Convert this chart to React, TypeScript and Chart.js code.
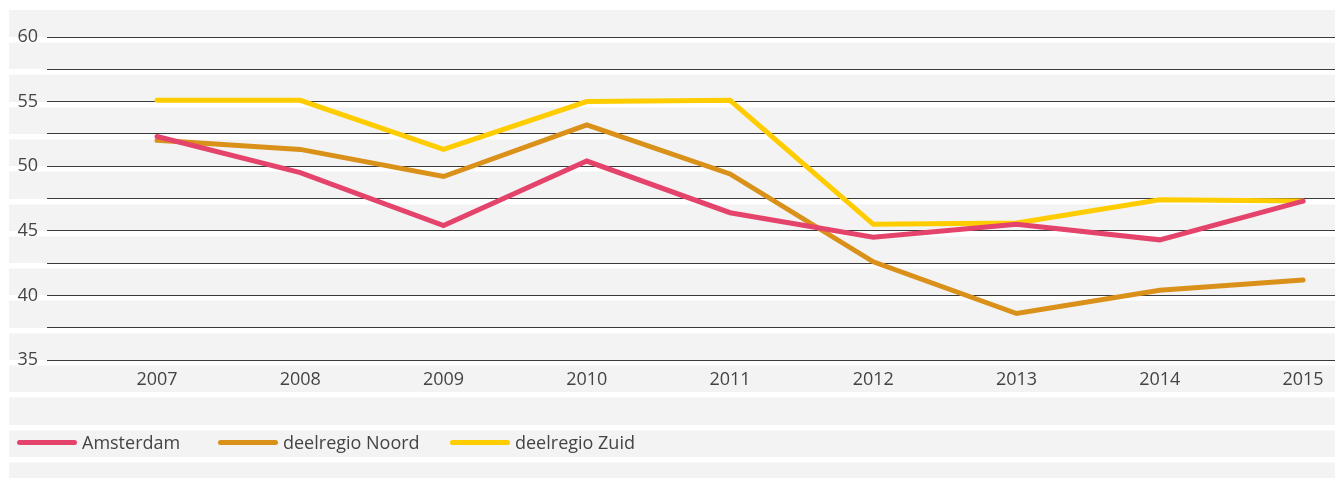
import React, { useEffect, useRef } from "react";
import { Chart, registerables } from "chart.js";

Chart.register(...registerables);

// ---- data ----
const years = [2007, 2008, 2009, 2010, 2011, 2012, 2013, 2014, 2015];
const amsterdam = [52.3, 49.5, 45.4, 50.4, 46.4, 44.5, 45.5, 44.3, 47.3];
const noord = [52.0, 51.3, 49.2, 53.2, 49.4, 42.6, 38.6, 40.4, 41.2];
const zuid = [55.1, 55.1, 51.3, 55.0, 55.1, 45.5, 45.6, 47.4, 47.3];
const seriesNames = ["Amsterdam", "deelregio Noord", "deelregio Zuid"];
const yMin = 35;
const yMax = 60;
const yStep = 2.5;
const yLabelStep = 5;

// ---- style ----
const COLORS = ["#e4446b", "#d9911a", "#ffcc00"];
const FONT = "'Open Sans', 'DejaVu Sans', sans-serif";
const TEXT = "#444444";
const BAND = "#f3f3f3";

const stripesPlugin = {
  id: "stripes",
  beforeDraw(chart: any) {
    const { ctx, width, height } = chart;
    const y = chart.scales.y;
    ctx.save();
    ctx.fillStyle = "#ffffff";
    ctx.fillRect(0, 0, width, height);
    ctx.fillStyle = BAND;
    ctx.fillRect(9, 10, width - 9, height - 10);
    ctx.fillStyle = "#ffffff";
    for (let v = yMax; ; v -= yStep) {
      const py = Math.round(y.getPixelForValue(v));
      if (py > height) break;
      ctx.fillRect(9, py, width - 9, 5.5);
    }
    ctx.restore();
  },
};

const legendPlugin = {
  id: "customLegend",
  afterDraw(chart: any) {
    const { ctx } = chart;
    const starts = [17, 218, 450];
    const cy = 442.5;
    ctx.save();
    chart.data.datasets.forEach((ds: any, i: number) => {
      const x = starts[i];
      ctx.strokeStyle = ds.borderColor;
      ctx.lineWidth = 5;
      ctx.lineCap = "round";
      ctx.beginPath();
      ctx.moveTo(x + 2.5, cy);
      ctx.lineTo(x + 57.5, cy);
      ctx.stroke();
      ctx.fillStyle = TEXT;
      ctx.font = `400 18px ${FONT}`;
      ctx.textBaseline = "alphabetic";
      ctx.textAlign = "left";
      ctx.fillText(ds.label, x + 65, 449);
    });
    ctx.restore();
  },
};

export default function App() {
  const ref = useRef<HTMLCanvasElement | null>(null);

  useEffect(() => {
    if (!ref.current) return;
    const series = [amsterdam, noord, zuid];
    const chart = new Chart(ref.current, {
      type: "line",
      data: {
        datasets: series.map((vals, i) => ({
          label: seriesNames[i],
          data: years.map((yr, j) => ({ x: yr, y: vals[j] })),
          borderColor: COLORS[i],
          backgroundColor: COLORS[i],
          borderWidth: 5,
          borderCapStyle: "round",
          borderJoinStyle: "miter",
          pointRadius: 0,
          pointHoverRadius: 0,
          tension: 0,
          fill: false,
        })),
      },
      options: {
        animation: false,
        responsive: false,
        maintainAspectRatio: false,
        layout: { padding: { top: 37, left: 0, right: 0, bottom: 0 } },
        plugins: {
          legend: { display: false },
          tooltip: { enabled: false },
        },
        scales: {
          x: {
            type: "linear",
            min: 2006.232,
            max: 2015.223,
            afterBuildTicks: (axis: any) => {
              axis.ticks = years.map((v) => ({ value: v }));
            },
            afterFit: (axis: any) => {
              axis.height = 118;
            },
            grid: { display: false, drawTicks: false },
            border: { display: false },
            ticks: {
              padding: 9,
              color: TEXT,
              font: { family: FONT, size: 18, weight: "400" },
              maxRotation: 0,
              autoSkip: false,
              callback: (v: any) => String(v),
            },
          },
          y: {
            min: yMin,
            max: yMax,
            afterFit: (axis: any) => {
              axis.width = 47;
            },
            grid: { color: "#3a3a3a", lineWidth: 1, drawTicks: false },
            border: { display: false },
            ticks: {
              stepSize: yStep,
              padding: 9,
              color: TEXT,
              font: { family: FONT, size: 18, weight: "400" },
              callback: (v: any) => (Number(v) % yLabelStep === 0 ? String(v) : ""),
            },
          },
        },
      },
      plugins: [stripesPlugin, legendPlugin],
    } as any);
    return () => chart.destroy();
  }, []);

  return (
    <div style={{ position: "fixed", left: 0, top: 0, width: 1335, height: 478 }}>
      <canvas ref={ref} width={1335} height={478} style={{ display: "block" }} />
    </div>
  );
}
